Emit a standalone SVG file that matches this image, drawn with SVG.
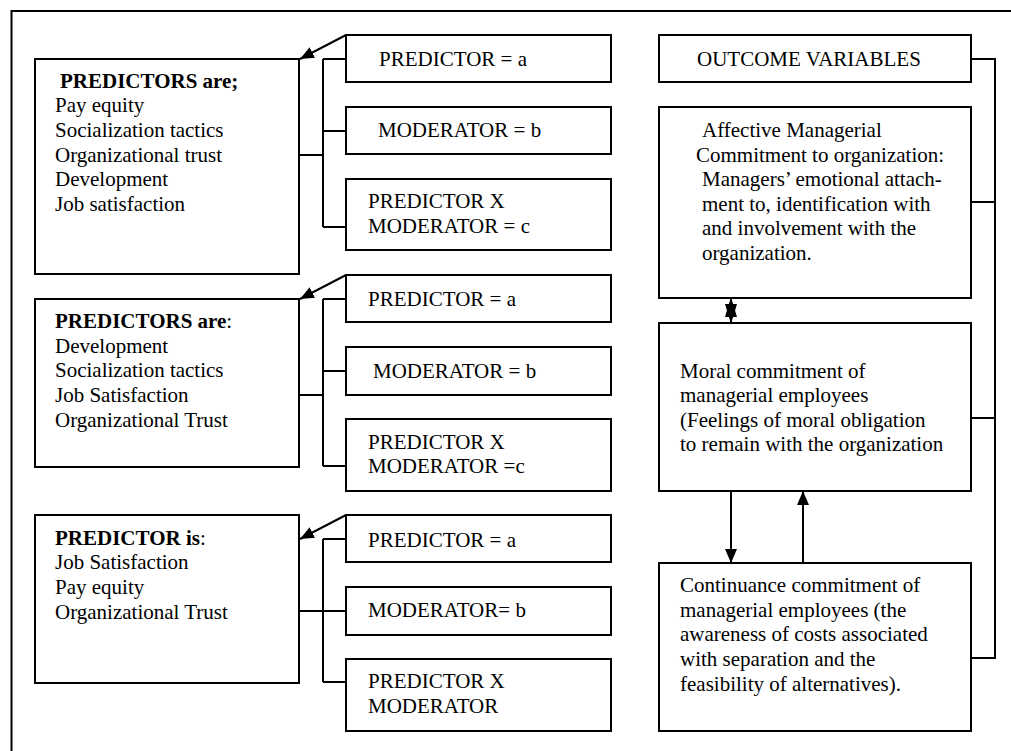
<svg xmlns="http://www.w3.org/2000/svg" width="1011" height="751" viewBox="0 0 1011 751">
  <style>
    .box { fill: #ffffff; stroke: #000000; stroke-width: 2; }
    .wire { fill: none; stroke: #000000; stroke-width: 2; }
    .tip { fill: #000000; stroke: none; }
    text { font-family: "Liberation Serif", "Times New Roman", serif; font-size: 21px; fill: #000000; }
    .b { font-weight: bold; }
  </style>
  <defs>
    <marker id="head" viewBox="0 0 14 12" refX="14" refY="6" markerWidth="14" markerHeight="12" markerUnits="userSpaceOnUse" orient="auto">
      <path d="M0,0 L14,6 L0,12 Z" fill="#000000"/>
    </marker>
  </defs>

  <rect width="1011" height="751" fill="#ffffff"/>

  <!-- page frame (top and left edges) -->
  <path class="wire" d="M1011,11 L11.5,11 L11.5,751"/>

  <!-- predictor sets -->
  <g id="predictors1">
    <rect class="box" x="35" y="59" width="264" height="215"/>
    <text x="60" y="88" class="b">PREDICTORS are;</text>
    <text x="55" y="112">Pay equity</text>
    <text x="55" y="137">Socialization tactics</text>
    <text x="55" y="162">Organizational trust</text>
    <text x="55" y="186">Development</text>
    <text x="55" y="211">Job satisfaction</text>
  </g>
  <g id="predictors2">
    <rect class="box" x="35" y="299" width="264" height="168"/>
    <text x="55" y="328"><tspan class="b">PREDICTORS are</tspan>:</text>
    <text x="55" y="353">Development</text>
    <text x="55" y="377">Socialization tactics</text>
    <text x="55" y="402">Job Satisfaction</text>
    <text x="55" y="427">Organizational Trust</text>
  </g>
  <g id="predictors3">
    <rect class="box" x="35" y="515" width="264" height="168"/>
    <text x="55" y="545"><tspan class="b">PREDICTOR is</tspan>:</text>
    <text x="55" y="569">Job Satisfaction</text>
    <text x="55" y="594">Pay equity</text>
    <text x="55" y="619">Organizational Trust</text>
  </g>

  <!-- model terms, set 1 -->
  <g id="predictor-a1">
    <rect class="box" x="346" y="35" width="265" height="47"/>
    <text x="379" y="66">PREDICTOR = a</text>
  </g>
  <g id="moderator-b1">
    <rect class="box" x="346" y="107" width="265" height="47"/>
    <text x="378" y="137">MODERATOR = b</text>
  </g>
  <g id="interaction-c1">
    <rect class="box" x="346" y="179" width="265" height="71"/>
    <text x="368" y="208">PREDICTOR X</text>
    <text x="368" y="233">MODERATOR = c</text>
  </g>

  <!-- model terms, set 2 -->
  <g id="predictor-a2">
    <rect class="box" x="346" y="275" width="265" height="47"/>
    <text x="368" y="306">PREDICTOR = a</text>
  </g>
  <g id="moderator-b2">
    <rect class="box" x="346" y="347" width="265" height="48"/>
    <text x="373" y="378">MODERATOR = b</text>
  </g>
  <g id="interaction-c2">
    <rect class="box" x="346" y="419" width="265" height="72"/>
    <text x="368" y="449">PREDICTOR X</text>
    <text x="368" y="473">MODERATOR =c</text>
  </g>

  <!-- model terms, set 3 -->
  <g id="predictor-a3">
    <rect class="box" x="346" y="515" width="265" height="47"/>
    <text x="368" y="547">PREDICTOR = a</text>
  </g>
  <g id="moderator-b3">
    <rect class="box" x="346" y="587" width="265" height="48"/>
    <text x="368" y="617">MODERATOR= b</text>
  </g>
  <g id="interaction-c3">
    <rect class="box" x="346" y="659" width="265" height="72"/>
    <text x="368" y="688">PREDICTOR X</text>
    <text x="368" y="713">MODERATOR</text>
  </g>

  <!-- outcomes -->
  <g id="outcome-header">
    <rect class="box" x="659" y="35" width="312" height="47"/>
    <text x="697" y="66">OUTCOME VARIABLES</text>
  </g>
  <g id="affective">
    <rect class="box" x="659" y="107" width="312" height="191"/>
    <text x="702" y="137">Affective Managerial</text>
    <text x="696" y="162">Commitment to organization:</text>
    <text x="702" y="186">Managers’ emotional attach-</text>
    <text x="702" y="211">ment to, identification with</text>
    <text x="702" y="235">and involvement with the</text>
    <text x="702" y="260">organization.</text>
  </g>
  <g id="moral">
    <rect class="box" x="659" y="323" width="312" height="168"/>
    <text x="680" y="378">Moral commitment of</text>
    <text x="680" y="402">managerial employees</text>
    <text x="680" y="427">(Feelings of moral obligation</text>
    <text x="680" y="451">to remain with the organization</text>
  </g>
  <g id="continuance">
    <rect class="box" x="659" y="563" width="312" height="168"/>
    <text x="680" y="592">Continuance commitment of</text>
    <text x="680" y="617">managerial employees (the</text>
    <text x="680" y="641">awareness of costs associated</text>
    <text x="680" y="666">with separation and the</text>
    <text x="680" y="691">feasibility of alternatives).</text>
  </g>

  <g id="connectors">
    <!-- set 1 -->
    <line class="wire" x1="346" y1="35" x2="300" y2="59" marker-end="url(#head)"/>
    <path class="wire" d="M299,155 H323 M323,59 V227 M323,59 H346 M323,131 H346 M323,227 H346"/>
    <!-- set 2 -->
    <line class="wire" x1="346" y1="275" x2="300" y2="299" marker-end="url(#head)"/>
    <path class="wire" d="M299,395 H323 M323,299 V466 M323,299 H346 M323,371 H346 M323,466 H346"/>
    <!-- set 3 -->
    <line class="wire" x1="346" y1="515" x2="300" y2="539" marker-end="url(#head)"/>
    <path class="wire" d="M299,611 H346 M323,539 V682 M323,539 H346 M323,682 H346"/>
    <!-- outcome bus -->
    <path class="wire" d="M971,59 H995 V658 H971 M971,202 H995 M971,418 H995"/>
    <!-- two-way link between affective and moral (overlapping heads) -->
    <line class="wire" x1="731" y1="299" x2="731" y2="322"/>
    <polygon class="tip" points="731,297 725,317 737,317"/>
    <polygon class="tip" points="731,324 725,304 737,304"/>
    <!-- links between moral and continuance -->
    <line class="wire" x1="731" y1="491" x2="731" y2="563" marker-end="url(#head)"/>
    <line class="wire" x1="803" y1="563" x2="803" y2="491" marker-end="url(#head)"/>
  </g>
</svg>
